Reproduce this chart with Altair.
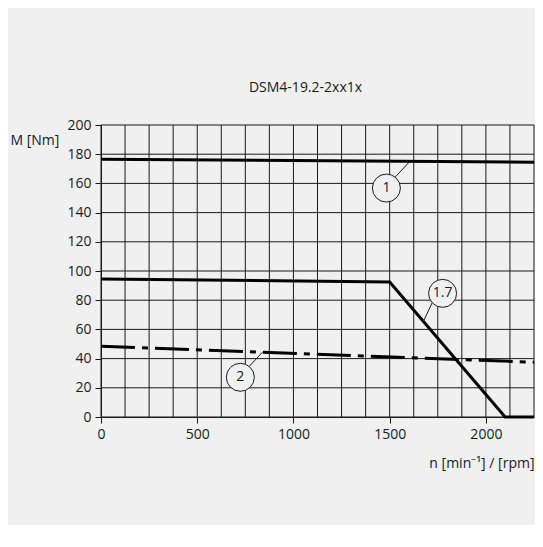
import altair as alt
import pandas as pd

TITLE = "DSM4-19.2-2xx1x"
X_TITLE = "n [min\u207b\u00b9] / [rpm]"
Y_TITLE = "M [Nm]"

# curve 1
rpm_1 = [0, 2250]
torque_1 = [176.5, 174.5]
# curve 1.7
rpm_17 = [0, 1500, 2100, 2250]
torque_17 = [94.5, 92.5, 0, 0]
# curve 2 (dash-dot)
rpm_2 = [0, 2250]
torque_2 = [48.5, 37.5]

x_ticks = [0, 500, 1000, 1500, 2000]
y_ticks = [0, 20, 40, 60, 80, 100, 120, 140, 160, 180, 200]
grid_x = [0, 125, 250, 375, 500, 625, 750, 875, 1000, 1125, 1250, 1375,
          1500, 1625, 1750, 1875, 2000, 2125, 2250]
grid_y = [0, 20, 40, 60, 80, 100, 120, 140, 160, 180, 200]

# callouts
callout_text = ["1", "1.7", "2"]
callout_x = [1483, 1775, 724]
callout_y = [156.8, 84.7, 27.2]
leader_x = [1529, 1720, 772]
leader_y = [164.4, 78.0, 34.9]
leader_x2 = [1606, 1677, 839]
leader_y2 = [175.2, 66.0, 44.4]

BG = "#f0f0f0"
INK = "#1a1a1a"
FONT = "Open Sans"
W = 433
H = 292

xscale = alt.Scale(domain=[0, 2250], nice=False, zero=False)
yscale = alt.Scale(domain=[0, 200], nice=False, zero=False)

xaxis = alt.Axis(values=x_ticks, grid=False, title=X_TITLE, titleAlign="right",
                 titleX=W, titleY=50, titleBaseline="alphabetic",
                 titleFontWeight="normal", titleFontSize=14, titleFont=FONT,
                 titleColor=INK, labelFont=FONT, labelFontSize=14, labelColor=INK,
                 labelPadding=4, tickSize=6, tickColor=INK, domainColor=INK,
                 labelFlush=False, format="d")
yaxis = alt.Axis(values=y_ticks, grid=False, title=Y_TITLE, titleAngle=0,
                 titleAlign="left", titleX=-91, titleY=19,
                 titleBaseline="alphabetic", titleFontWeight="normal",
                 titleFontSize=14, titleFont=FONT, titleColor=INK,
                 labelFont=FONT, labelFontSize=14, labelColor=INK,
                 labelPadding=4, tickSize=6, tickColor=INK, domainColor=INK,
                 format="d")

X = alt.X("rpm:Q", scale=xscale, axis=xaxis)
Y = alt.Y("torque:Q", scale=yscale, axis=yaxis)

gx = alt.Chart(pd.DataFrame({"rpm": grid_x})).mark_rule(
    color=INK, strokeWidth=1).encode(x=X)
gy = alt.Chart(pd.DataFrame({"torque": grid_y})).mark_rule(
    color=INK, strokeWidth=1).encode(y=Y)

l1 = alt.Chart(pd.DataFrame({"rpm": rpm_1, "torque": torque_1})).mark_line(
    color="black", strokeWidth=3).encode(x=X, y=Y)
l17 = alt.Chart(pd.DataFrame({"rpm": rpm_17, "torque": torque_17})).mark_line(
    color="black", strokeWidth=3, strokeJoin="miter").encode(x=X, y=Y)
l2 = alt.Chart(pd.DataFrame({"rpm": rpm_2, "torque": torque_2})).mark_line(
    color="black", strokeWidth=3, strokeDash=[34, 7, 6, 7]).encode(x=X, y=Y)

cdf = pd.DataFrame({"label": callout_text, "rpm": callout_x, "torque": callout_y,
                    "lx": leader_x, "ly": leader_y, "lx2": leader_x2, "ly2": leader_y2})

leaders = alt.Chart(cdf).mark_rule(color=INK, strokeWidth=1).encode(
    x=alt.X("lx:Q", scale=xscale, axis=xaxis), x2="lx2:Q",
    y=alt.Y("ly:Q", scale=yscale, axis=yaxis), y2="ly2:Q")
circles = alt.Chart(cdf).mark_point(shape="circle", filled=True, fill=BG,
                                    stroke=INK, strokeWidth=1, size=784,
                                    opacity=1).encode(x=X, y=Y)
texts = alt.Chart(cdf).mark_text(font=FONT, fontSize=14, color=INK,
                                 align="center", baseline="middle").encode(
    x=X, y=Y, text="label:N")

chart = alt.layer(gx, gy, l1, l17, l2, leaders, circles, texts).properties(
    width=W, height=H,
    title=alt.TitleParams(TITLE, fontSize=14, fontWeight="normal", font=FONT,
                          color=INK, anchor="middle", dx=-12, offset=12,
                          baseline="alphabetic"),
    background=BG,
    autosize=alt.AutoSizeParams(type="none"),
    padding={"left": 93, "top": 117, "right": 1, "bottom": 108},
).configure_view(stroke=None)

chart.save("out.html", embed_options={"renderer": "svg", "actions": False})
